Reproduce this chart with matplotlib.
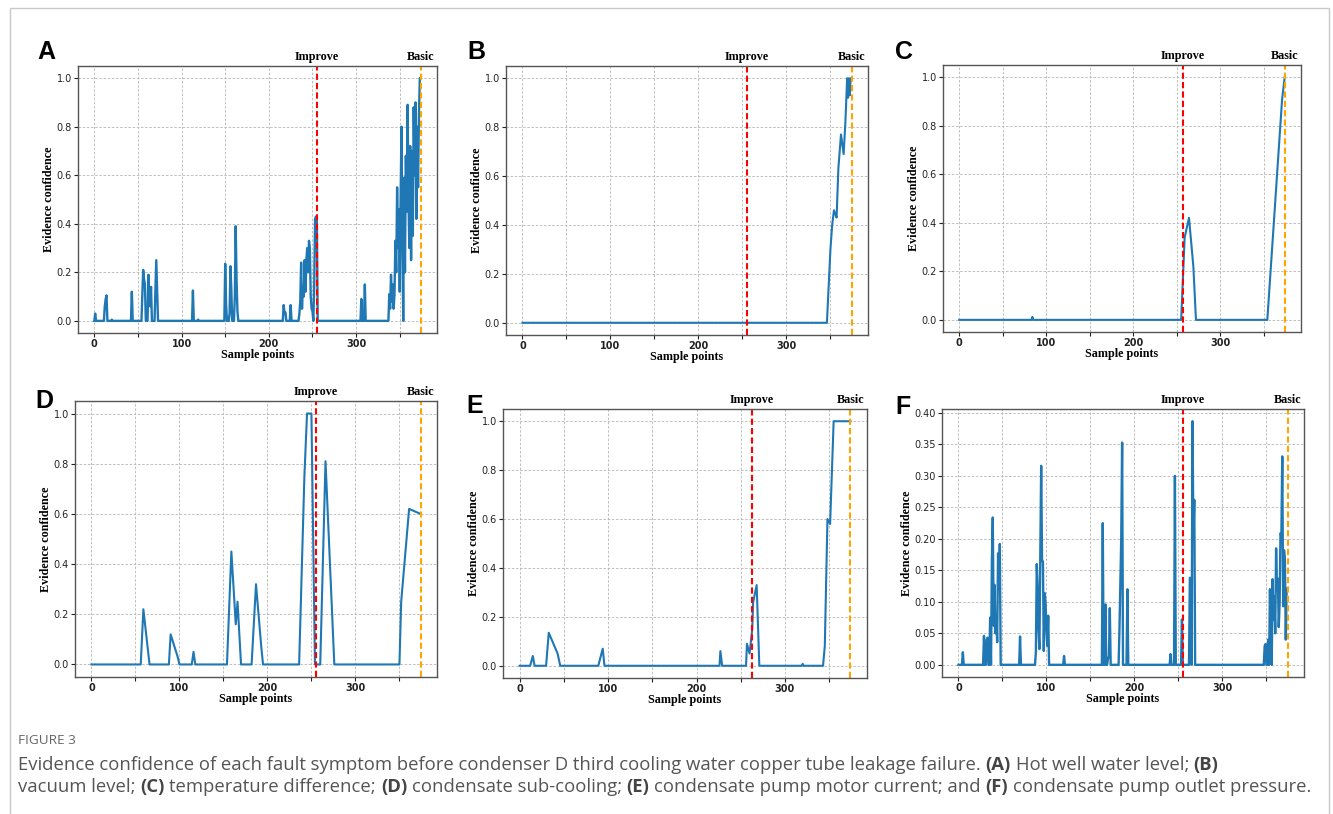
import numpy as np
import matplotlib.pyplot as plt
from matplotlib.patches import Rectangle

W, H = 1333, 814
N_POINTS = 375          # sample points 0..374
BASIC_AT = 374

# ---- panel A: hot well water level (sparse spikes: index -> value)
a_idx = [1, 12, 13, 14, 20, 43, 55, 56, 57, 58, 62, 63, 64, 65, 70, 71, 72,
         113, 119, 150, 151, 155, 156, 157, 161, 162, 163, 164, 217, 218, 219, 225,
         235, 236, 237, 238, 239, 240, 241, 242, 243, 244, 245, 246, 247, 248, 249,
         250, 251, 252, 253, 254, 255, 306, 310,
         338, 339, 340, 341, 342, 343, 344, 345, 346, 347, 348, 349, 350, 351, 352,
         353, 354, 355, 356, 357, 358, 359, 360, 361, 362, 363, 364, 365, 366, 367,
         368, 369, 370, 371, 372, 373, 374]
a_val = [0.03, 0.06, 0.09, 0.105, 0.005, 0.12, 0.10, 0.21, 0.17, 0.15, 0.19, 0.07, 0.06, 0.14,
         0.13, 0.25, 0.13, 0.125, 0.005, 0.235, 0.07, 0.03, 0.225, 0.13, 0.10, 0.39, 0.17, 0.04,
         0.065, 0.03, 0.035, 0.065,
         0.03, 0.08, 0.24, 0.05, 0.14, 0.10, 0.25, 0.12, 0.25, 0.30, 0.20, 0.33, 0.30, 0.10,
         0.05, 0.04, 0.0, 0.15, 0.42, 0.43, 0.41, 0.09, 0.15,
         0.11, 0.05, 0.19, 0.08, 0.15, 0.05, 0.11, 0.33, 0.20, 0.55, 0.30, 0.46, 0.12, 0.50,
         0.80, 0.35, 0.0, 0.59, 0.20, 0.68, 0.45, 0.89, 0.50, 0.30, 0.72, 0.25, 0.70, 0.35,
         0.88, 0.60, 0.90, 0.42, 0.80, 0.55, 0.85, 1.0, 1.0]

# ---- panel B: vacuum level (breakpoints)
b_x = [0, 346, 350, 352, 354, 355, 357, 359, 362, 365, 367, 369, 370, 371, 372, 373, 374]
b_y = [0, 0, 0.30, 0.40, 0.46, 0.45, 0.43, 0.63, 0.77, 0.69, 0.82, 1.0, 0.92, 1.0, 0.93, 1.0, 1.0]

# ---- panel C: temperature difference
c_x = [0, 83, 84, 85, 255, 259, 264, 269, 272, 354, 371, 374]
c_y = [0, 0, 0.012, 0, 0, 0.34, 0.42, 0.22, 0, 0, 0.91, 1.0]

# ---- panel D: condensate sub-cooling
d_x = [0, 56, 59, 66, 88, 90, 98, 100, 114, 116, 118, 154, 159, 164, 166, 170,
       182, 187, 193, 195, 236, 242, 245, 250, 254, 260, 266, 276, 350, 352, 361, 374]
d_y = [0, 0, 0.22, 0, 0, 0.12, 0.03, 0, 0, 0.05, 0, 0, 0.45, 0.16, 0.25, 0,
       0, 0.32, 0.07, 0, 0, 0.75, 1.0, 1.0, 0, 0, 0.81, 0, 0, 0.25, 0.62, 0.60]

# ---- panel E: condensate pump motor current
e_x = [0, 12, 15, 17, 30, 33, 43, 46, 89, 94, 96, 226, 227, 229, 256, 257, 260, 263,
       264, 268, 271, 319, 320, 321, 343, 345, 348, 351, 355, 374]
e_y = [0, 0, 0.04, 0, 0, 0.135, 0.05, 0, 0, 0.07, 0, 0, 0.06, 0, 0, 0.09, 0.05, 0.15,
       0.26, 0.33, 0, 0, 0.008, 0, 0, 0.08, 0.60, 0.58, 1.0, 1.0]

# ---- panel F: condensate pump outlet pressure (sparse spikes)
f_idx = [5, 29, 32, 33, 36, 38, 39, 40, 41, 42, 43, 44, 45, 46, 47, 70,
         88, 89, 90, 91, 92, 93, 94, 95, 96, 97, 98, 99, 100, 101, 102, 120,
         164, 167, 170, 171, 172, 183, 184, 185, 186, 192, 241, 246, 254,
         263, 264, 266, 267, 268,
         348, 349, 352, 354, 355, 357, 358, 359, 360, 361, 362, 363, 364, 365, 366,
         367, 368, 369, 370, 371, 372, 373, 374]
f_val = [0.02, 0.046, 0.04, 0.043, 0.075, 0.165, 0.234, 0.062, 0.127, 0.05, 0.076, 0.036,
         0.177, 0.12, 0.192, 0.045,
         0.021, 0.16, 0.124, 0.055, 0.025, 0.18, 0.316, 0.165, 0.164, 0.022, 0.114, 0.098,
         0.056, 0.03, 0.078, 0.014,
         0.225, 0.096, 0.011, 0.012, 0.09, 0.058, 0.126, 0.2, 0.353, 0.12, 0.017, 0.30, 0.072,
         0.138, 0.138, 0.387, 0.2, 0.262,
         0.03, 0.033, 0.04, 0.12, 0.04, 0.136, 0.072, 0.109, 0.05, 0.185, 0.12, 0.137, 0.06,
         0.098, 0.209, 0.206, 0.331, 0.093, 0.182, 0.167, 0.04, 0.121, 0.121]

improve_at = {'A': 255, 'B': 255, 'C': 257, 'D': 255, 'E': 263, 'F': 255}

# axes boxes in pixels: left, top, right, bottom
boxes = {'A': (78, 66, 437, 333), 'B': (506, 66, 868, 335), 'C': (943, 65, 1301, 332),
         'D': (75, 401, 437, 677), 'E': (503, 409, 867, 678), 'F': (942, 409, 1304, 677)}
letter_pos = {'A': (37, 52), 'B': (467, 52), 'C': (895, 52),
              'D': (35, 401), 'E': (466, 406), 'F': (895, 407)}

SERIF = ['Liberation Serif', 'DejaVu Serif']
BLUE = '#1f77b4'
LBL = 8.7


def spikes(idx, val):
    s = np.zeros(N_POINTS)
    s[idx] = val
    return np.arange(N_POINTS), s


series = {
    'A': spikes(a_idx, a_val),
    'B': (b_x, b_y),
    'C': (c_x, c_y),
    'D': (d_x, d_y),
    'E': (e_x, e_y),
    'F': spikes(f_idx, f_val),
}

fig = plt.figure(figsize=(W / 100, H / 100), dpi=100)
fig.patches.append(Rectangle((10 / W, -0.05), 1319 / W, 1.05 - 8 / H, transform=fig.transFigure,
                             fill=False, edgecolor='#c8c8c8', linewidth=1.0))

for key, (l, t, r, b) in boxes.items():
    ax = fig.add_axes([l / W, 1 - b / H, (r - l) / W, (b - t) / H])
    x, y = series[key]
    lw = 1.7 if key in ('A', 'F') else 1.5
    ax.plot(x, y, color=BLUE, linewidth=lw)
    ax.axvline(improve_at[key], color='red', linestyle='--', linewidth=1.5, dashes=(3, 1.5))
    ax.axvline(BASIC_AT, color='orange', linestyle='--', linewidth=1.5, dashes=(3, 1.5))

    ax.set_xticks(np.arange(0, 351, 50))
    ax.set_xticklabels(['0', '', '100', '', '200', '', '300', ''])
    if key == 'F':
        ax.set_yticks(np.arange(0, 0.401, 0.05))
        ax.set_yticklabels(['%.2f' % v for v in np.arange(0, 0.401, 0.05)])
    else:
        ax.set_yticks(np.arange(0, 1.01, 0.2))
        ax.set_yticklabels(['%.1f' % v for v in np.arange(0, 1.01, 0.2)])
    ax.tick_params(labelsize=7, colors='#222222', length=3, width=0.8, pad=1.5)
    for lab in ax.get_xticklabels():
        lab.set_fontweight('bold')
    ax.grid(True, color='#b5b5b5', linestyle=(0, (3, 2)), linewidth=0.6)
    for sp in ax.spines.values():
        sp.set_color('#555555')
        sp.set_linewidth(1.0)

    ax.set_xlabel('Sample points', family=SERIF, fontweight='bold', fontsize=LBL, labelpad=0)
    ax.set_ylabel('Evidence confidence', family=SERIF, fontweight='bold', fontsize=LBL, labelpad=1)

    tr = ax.get_xaxis_transform()
    ax.text(improve_at[key], 1.012, 'Improve', transform=tr, ha='center', va='bottom',
            family=SERIF, fontweight='bold', fontsize=LBL)
    ax.text(BASIC_AT, 1.012, 'Basic', transform=tr, ha='center', va='bottom',
            family=SERIF, fontweight='bold', fontsize=LBL)

    lx, ly = letter_pos[key]
    fig.text(lx / W, 1 - ly / H, key, family=['Liberation Sans', 'DejaVu Sans'],
             fontweight='bold', fontsize=18, va='center', ha='left')

# ---- caption
fig.text(18 / W, 1 - 741 / H, 'FIGURE 3', family=['Open Sans', 'DejaVu Sans'], fontsize=9.7,
         color='#666666', va='center')

cap1 = [('Evidence confidence of each fault symptom before condenser D third cooling water '
         'copper tube leakage failure.', False), ('(A)', True), ('Hot well water level;', False),
        ('(B)', True)]
cap2 = [('vacuum level;', False), ('(C)', True), ('temperature difference;', False), ('(D)', True),
        ('condensate sub-cooling;', False), ('(E)', True),
        ('condensate pump motor current; and', False), ('(F)', True),
        ('condensate pump outlet pressure.', False)]

renderer = fig.canvas.get_renderer()
CAP_SIZE = 13.3


def caption_line(parts, x_px, y_px):
    probe = fig.text(0, 0, 'x x', family=['Open Sans', 'DejaVu Sans'], fontsize=CAP_SIZE)
    probe2 = fig.text(0, 0, 'xx', family=['Open Sans', 'DejaVu Sans'], fontsize=CAP_SIZE)
    space = probe.get_window_extent(renderer).width - probe2.get_window_extent(renderer).width
    probe.remove()
    probe2.remove()
    x = x_px
    for txt, bold in parts:
        t = fig.text(x / W, 1 - y_px / H, txt, family=['Open Sans', 'DejaVu Sans'],
                     fontsize=CAP_SIZE, fontweight='bold' if bold else 'normal',
                     color='#444444' if bold else '#555555', va='baseline')
        x += t.get_window_extent(renderer).width + space


caption_line(cap1, 18, 770)
caption_line(cap2, 18, 792)

fig.savefig('out.png', dpi=100)
